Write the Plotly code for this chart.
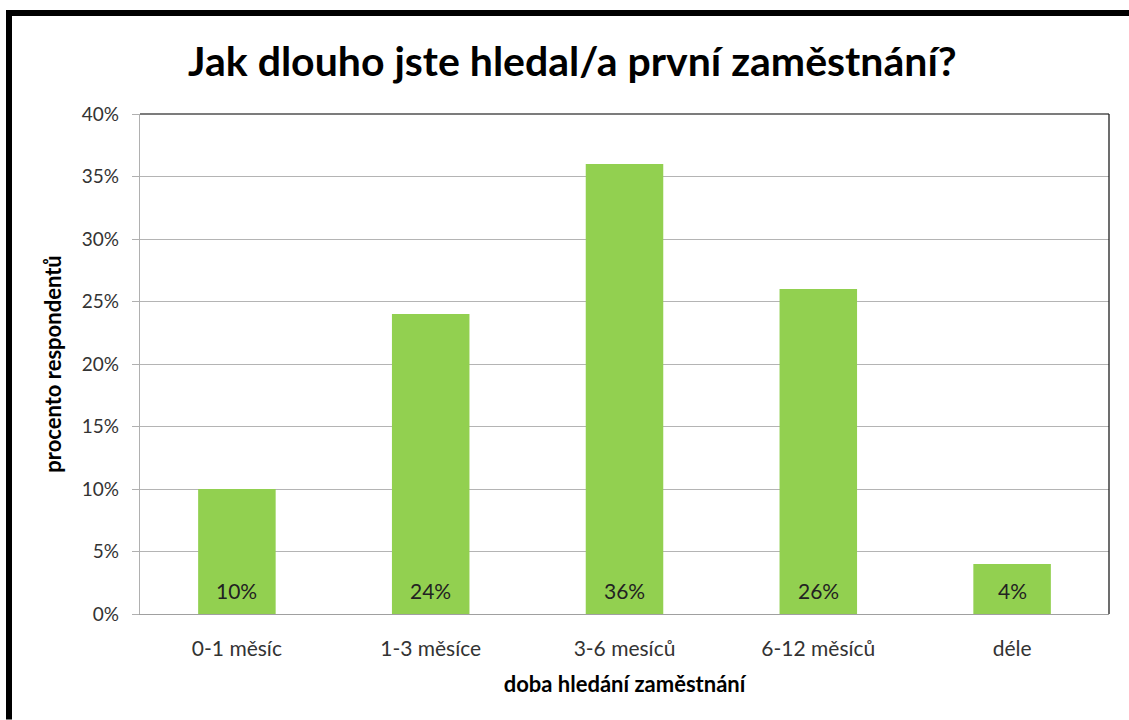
import plotly.graph_objects as go

categories = ["0-1 měsíc", "1-3 měsíce", "3-6 mesíců", "6-12 měsíců", "déle"]
values = [0.10, 0.24, 0.36, 0.26, 0.04]
labels = ["10%", "24%", "36%", "26%", "4%"]

W, H = 1129, 720
L, R, T, B = 140, 1109, 114, 614.5
FONT = "Lato"

def px(x):
    return (x - L) / (R - L)

def py(y):
    return (B - y) / (B - T)

fig = go.Figure()
fig.add_trace(go.Bar(
    x=categories, y=values, marker_color="#92D050", width=0.4,
    marker_line_width=0, hoverinfo="skip"))

for c, v, lab in zip(categories, values, labels):
    fig.add_annotation(x=c, y=0, text=lab, showarrow=False, yshift=24,
                       font=dict(family=FONT, size=21, color="#222222"))

shapes = [
    dict(type="line", xref="paper", yref="paper", x0=0, x1=1, y0=1, y1=1,
         line=dict(color="#505050", width=1.3)),
    dict(type="line", xref="paper", yref="paper", x0=1, x1=1, y0=0, y1=1,
         line=dict(color="#202020", width=1.3)),
    dict(type="line", xref="paper", yref="paper", x0=px(6), x1=px(1129), y0=py(13), y1=py(13),
         line=dict(color="black", width=6)),
    dict(type="line", xref="paper", yref="paper", x0=px(9), x1=px(9), y0=py(10), y1=py(720),
         line=dict(color="black", width=6)),
]

fig.update_layout(
    width=W, height=H,
    margin=dict(l=L, r=W - R, t=T, b=H - B),
    paper_bgcolor="white", plot_bgcolor="white",
    showlegend=False, bargap=0.6,
    title=dict(text="<b>Jak dlouho jste hledal/a první zaměstnání?</b>",
               x=0.507, xanchor="center", y=1 - 62 / H, yanchor="middle",
               font=dict(family=FONT, size=41, color="black")),
    font=dict(family=FONT, size=21, color="#333333"),
    shapes=shapes,
)
fig.update_yaxes(range=[0, 0.4], dtick=0.05, tickformat=".0%",
                 showgrid=True, gridcolor="#b4b4b4", gridwidth=1,
                 showline=True, linecolor="#b0b0b0", linewidth=1.3,
                 ticks="outside", ticklen=7, tickcolor="#b0b0b0",
                 ticklabelstandoff=9,
                 tickfont=dict(family=FONT, size=19, color="#333333"),
                 zeroline=False, fixedrange=True,
                 title=dict(text="<b>procento respondentů</b>", standoff=14,
                            font=dict(family=FONT, size=22, color="black")))
fig.update_xaxes(showline=True, linecolor="#a0a0a0", linewidth=1.3,
                 ticks="outside", ticklen=16, tickcolor="rgba(0,0,0,0)",
                 tickfont=dict(family=FONT, size=21, color="#333333"),
                 fixedrange=True,
                 title=dict(text="<b>doba hledání zaměstnání</b>", standoff=17,
                            font=dict(family=FONT, size=22, color="black")))

fig.write_html("out.html", config={"displayModeBar": False},
               post_script="document.body.style.margin='0';")
